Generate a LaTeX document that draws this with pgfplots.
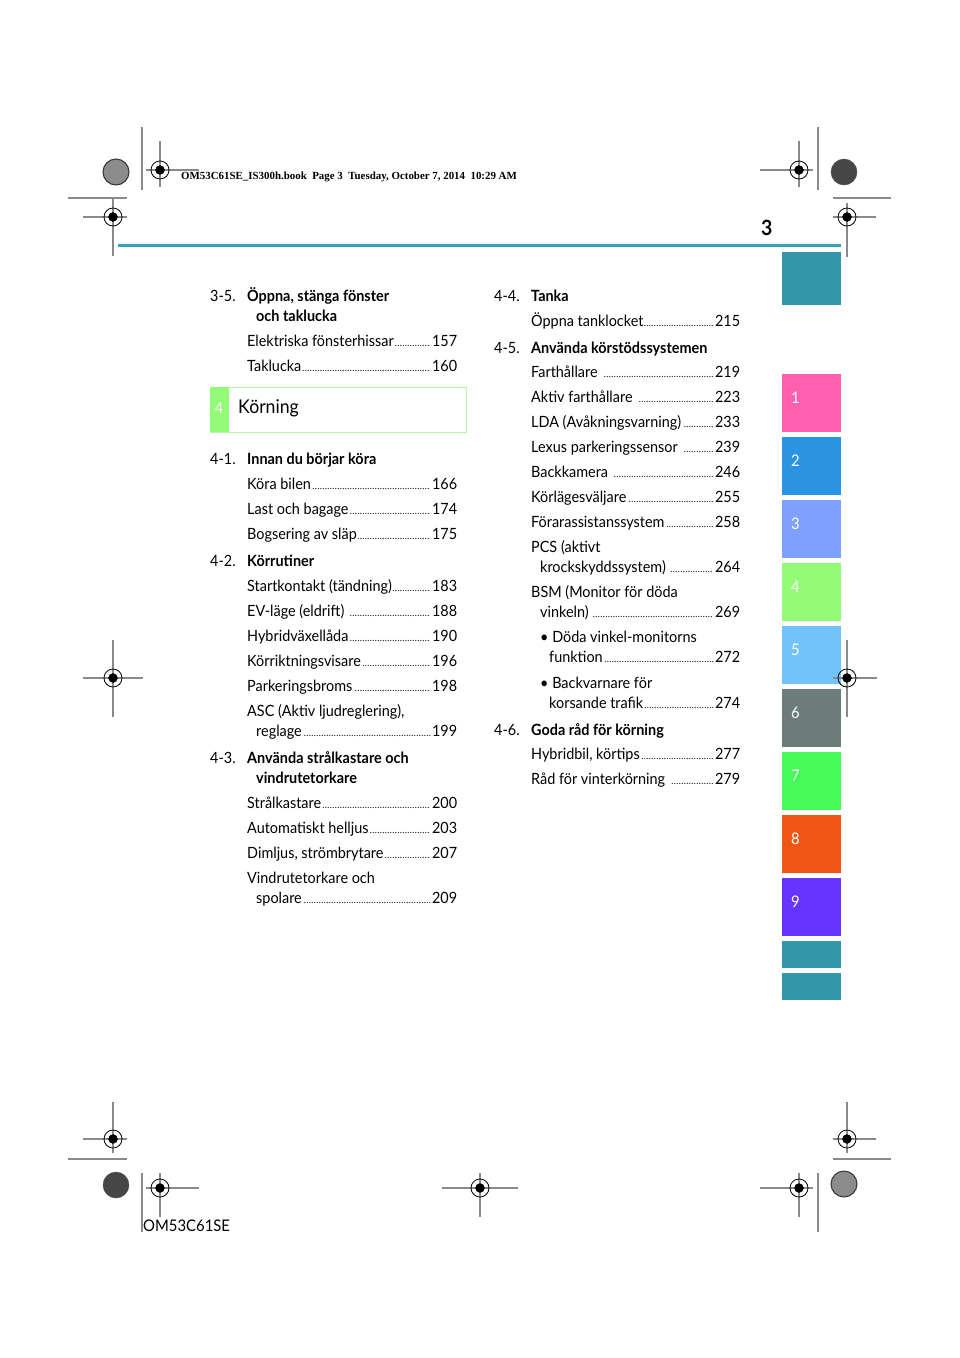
\documentclass[border=0pt]{standalone}
\usepackage{pgfplots}
\pgfplotsset{compat=1.18}
\usepackage{fontspec}
\setmainfont{Lato}[FakeStretch=0.93]
\newfontfamily\hdr{Liberation Serif}
\definecolor{teal}{HTML}{3595AB}
\definecolor{tline}{HTML}{3AA0B8}
\definecolor{tA}{HTML}{FF5FB0}
\definecolor{tB}{HTML}{2A93E2}
\definecolor{tC}{HTML}{7FA0FC}
\definecolor{tD}{HTML}{92FC78}
\definecolor{tE}{HTML}{72C3FC}
\definecolor{tF}{HTML}{6B7C7B}
\definecolor{tG}{HTML}{46FA5A}
\definecolor{tH}{HTML}{F05516}
\definecolor{tI}{HTML}{6633FF}
\definecolor{boxb}{HTML}{B5F5AA}
\definecolor{markg}{HTML}{8A8A8A}
\newcommand\dl{\leaders\hbox to 2.5pt{\hss\fontsize{9.5}{9}\selectfont.\hss}\hfill}
\newcommand\body{\fontsize{15.5}{18}\selectfont}
\newcommand\ent[4]{\node[anchor=base west,inner sep=0] at (axis cs:#1,#2) {\body\makebox[#3pt][l]{#4}};}
\newcommand\txt[3]{\node[anchor=base west,inner sep=0] at (axis cs:#1,#2) {\body #3};}
\newcommand\hd[5]{\node[anchor=base west,inner sep=0] at (axis cs:#1,#3) {\body #2};\node[anchor=base west,inner sep=0] at (axis cs:#5,#3) {\body\bfseries #4};}
\newcommand\tab[3]{\addplot[fill=#3,draw=white,line width=0.6pt] coordinates {(781,#1)(841,#1)(841,#2)(781,#2)} -- cycle;}
\newcommand\tn[2]{\node[anchor=base west,inner sep=0,text=white] at (axis cs:791,#2) {\fontsize{16}{18}\selectfont #1};}
\begin{document}
\begin{tikzpicture}
\begin{axis}[width=960pt,height=1358pt,scale only axis,hide axis,
  xmin=0,xmax=960,ymin=0,ymax=1358,y dir=reverse,clip=false]
% page background
\addplot[fill=white,draw=none] coordinates {(0,0)(960,0)(960,1358)(0,1358)} -- cycle;
% top rule
\addplot[tline,line width=3pt] coordinates {(118,245)(841,245)};
% tabs
\tab{251}{305}{teal}
\tab{373}{432}{tA}
\tab{436}{495}{tB}
\tab{499}{558}{tC}
\tab{562}{621}{tD}
\tab{625}{684}{tE}
\tab{688}{747}{tF}
\tab{751}{810}{tG}
\tab{814}{873}{tH}
\tab{877}{936}{tI}
\tab{940}{968}{teal}
\tab{972}{1000}{teal}
% Körning box
\addplot[fill=white,draw=boxb,line width=1pt] coordinates {(210,387)(466,387)(466,432)(210,432)} -- cycle;
\addplot[fill=tD,draw=none] coordinates {(210,387)(229,387)(229,432)(210,432)} -- cycle;
% registration lines
\addplot[markg,line width=1.2pt,unbounded coords=jump] coordinates {
(146,170)(199,170)(nan,nan)(160,141)(160,187)(nan,nan)
(83,217)(127,217)(nan,nan)(113,198)(113,256)(nan,nan)
(760,170)(813,170)(nan,nan)(799,141)(799,187)(nan,nan)
(833,217)(876,217)(nan,nan)(847,203)(847,257)(nan,nan)
(142,127)(142,190)(nan,nan)(68,198)(127,198)(nan,nan)
(818,127)(818,190)(nan,nan)(833,198)(891,198)(nan,nan)
(83,678)(143,678)(nan,nan)(113,640)(113,717)(nan,nan)
(833,678)(877,678)(nan,nan)(847,640)(847,717)(nan,nan)
(83,1139)(127,1139)(nan,nan)(113,1102)(113,1153)(nan,nan)
(68,1159)(127,1159)(nan,nan)(142,1173)(142,1232)(nan,nan)
(146,1188)(199,1188)(nan,nan)(160,1173)(160,1217)(nan,nan)
(442,1188)(518,1188)(nan,nan)(480,1173)(480,1217)(nan,nan)
(833,1139)(876,1139)(nan,nan)(847,1102)(847,1153)(nan,nan)
(833,1159)(891,1159)(nan,nan)(818,1173)(818,1232)(nan,nan)
(760,1188)(813,1188)(nan,nan)(799,1173)(799,1217)
};
\addplot[only marks,mark=o,mark size=9pt,mark options={black,line width=0.8pt}] coordinates {
(160,170)(113,217)(799,170)(847,217)(113,678)(847,678)(113,1139)(160,1188)(480,1188)(847,1139)(799,1188)};
\addplot[only marks,mark=*,mark size=4.5pt,mark options={black}] coordinates {
(160,170)(113,217)(799,170)(847,217)(113,678)(847,678)(113,1139)(160,1188)(480,1188)(847,1139)(799,1188)};
\addplot[only marks,mark=*,mark size=13pt,mark options={fill=black!45,draw=black!80,line width=1pt}] coordinates {(116,172)(844,1184)};
\addplot[only marks,mark=*,mark size=13pt,mark options={fill=black!72,draw=black!72}] coordinates {(844,172)(116,1185)};
% header
\node[anchor=base west,inner sep=0] at (axis cs:181,179) {\hdr\bfseries\fontsize{10.9}{12}\selectfont OM53C61SE\_IS300h.book\ \ Page 3\ \ Tuesday, October 7, 2014\ \ 10:29 AM};
\node[anchor=base west,inner sep=0] at (axis cs:761,235) {\bfseries\fontsize{21}{24}\selectfont 3};
\node[anchor=base west,inner sep=0] at (axis cs:143,1231) {\fontsize{16}{18}\selectfont OM53C61SE};
% tab numbers
\tn{1}{403}\tn{2}{466}\tn{3}{529}\tn{4}{592}\tn{5}{655}\tn{6}{718}\tn{7}{781}\tn{8}{844}\tn{9}{907}
\node[anchor=base west,inner sep=0,text=white] at (axis cs:215,413) {\fontsize{15}{18}\selectfont 4};
\node[anchor=base west,inner sep=0] at (axis cs:238,413) {\fontsize{19}{22}\selectfont Körning};
% left column
\hd{210}{3-5.}{301}{Öppna, stänga fönster}{247}
\node[anchor=base west,inner sep=0] at (axis cs:256,321) {\body\bfseries och taklucka};
\ent{247}{346}{210}{Elektriska fönsterhissar\dl 157}
\ent{247}{371}{210}{Taklucka\dl 160}
\hd{210}{4-1.}{464}{Innan du börjar köra}{247}
\ent{247}{489}{210}{Köra bilen\dl 166}
\ent{247}{514}{210}{Last och bagage\dl 174}
\ent{247}{539}{210}{Bogsering av släp\dl 175}
\hd{210}{4-2.}{566}{Körrutiner}{247}
\ent{247}{591}{210}{Startkontakt (tändning)\dl 183}
\ent{247}{616}{210}{EV-läge (eldrift) \dl 188}
\ent{247}{641}{210}{Hybridväxellåda\dl 190}
\ent{247}{666}{210}{Körriktningsvisare\dl 196}
\ent{247}{691}{210}{Parkeringsbroms\dl 198}
\txt{247}{716}{ASC (Aktiv ljudreglering),}
\ent{256}{736}{201}{reglage\dl 199}
\hd{210}{4-3.}{763}{Använda strålkastare och}{247}
\node[anchor=base west,inner sep=0] at (axis cs:256,783) {\body\bfseries vindrutetorkare};
\ent{247}{808}{210}{Strålkastare\dl 200}
\ent{247}{833}{210}{Automatiskt helljus\dl 203}
\ent{247}{858}{210}{Dimljus, strömbrytare\dl 207}
\txt{247}{883}{Vindrutetorkare och}
\ent{256}{903}{201}{spolare\dl 209}
% right column
\hd{494}{4-4.}{301}{Tanka}{531}
\ent{531}{326}{209}{Öppna tanklocket\dl 215}
\hd{494}{4-5.}{353}{Använda körstödssystemen}{531}
\ent{531}{377}{209}{Farthållare \dl 219}
\ent{531}{402}{209}{Aktiv farthållare \dl 223}
\ent{531}{427}{209}{LDA (Avåkningsvarning)\dl 233}
\ent{531}{452}{209}{Lexus parkeringssensor \dl 239}
\ent{531}{477}{209}{Backkamera \dl 246}
\ent{531}{502}{209}{Körlägesväljare\dl 255}
\ent{531}{527}{209}{Förarassistanssystem\dl 258}
\txt{531}{552}{PCS (aktivt}
\ent{540}{572}{200}{krockskyddssystem) \dl 264}
\txt{531}{597}{BSM (Monitor för döda}
\ent{540}{617}{200}{vinkeln) \dl 269}
\txt{540}{642}{\textbullet\ Döda vinkel-monitorns}
\ent{549}{662}{191}{funktion\dl 272}
\txt{540}{688}{\textbullet\ Backvarnare för}
\ent{549}{708}{191}{korsande trafik\dl 274}
\hd{494}{4-6.}{735}{Goda råd för körning}{531}
\ent{531}{759}{209}{Hybridbil, körtips\dl 277}
\ent{531}{784}{209}{Råd för vinterkörning \dl 279}
\end{axis}
\end{tikzpicture}
\end{document}
